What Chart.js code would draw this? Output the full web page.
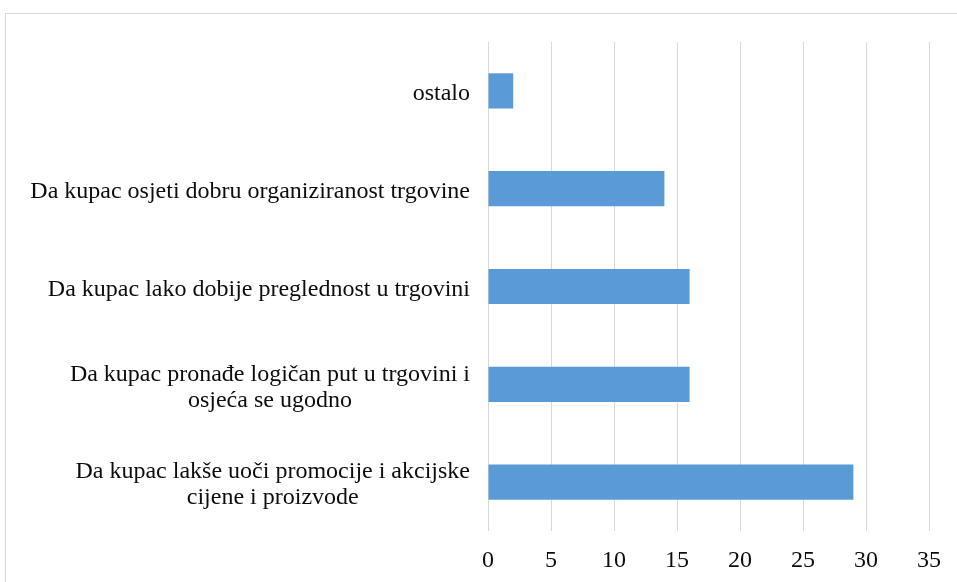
<!DOCTYPE html>
<html>
<head>
<meta charset="utf-8">
<script src="https://cdn.jsdelivr.net/npm/chart.js@4"></script>
<style>
  html, body { margin: 0; padding: 0; background: #fff; }
  #wrap { width: 957px; height: 582px; position: relative; }
</style>
</head>
<body>
<div id="wrap"><canvas id="c" width="957" height="582"></canvas></div>
<script>
// Survey answers (top to bottom) and number of respondents
const categories = [
  ['ostalo'],
  ['Da kupac osjeti dobru organiziranost trgovine'],
  ['Da kupac lako dobije preglednost u trgovini'],
  ['Da kupac pronađe logičan put u trgovini i', 'osjeća se ugodno'],
  ['Da kupac lakše uoči promocije i akcijske', 'cijene i proizvode']
];
const counts = [2, 14, 16, 16, 29];
const xTicks = [0, 5, 10, 15, 20, 25, 30, 35];

const FONT = '"Liberation Serif", "Times New Roman", serif';
const TEXT = '#0d0d0d';

// Light frame around the whole figure
const framePlugin = {
  id: 'frame',
  beforeDraw(chart) {
    const ctx = chart.ctx;
    ctx.save();
    ctx.fillStyle = '#ffffff';
    ctx.fillRect(0, 0, chart.width, chart.height);
    ctx.strokeStyle = '#d9d9d9';
    ctx.lineWidth = 1;
    ctx.strokeRect(5.5, 13.5, chart.width + 20, chart.height + 20);
    ctx.restore();
  }
};

// Category labels: block right-aligned against the plot, lines centred within the block
const categoryLabels = {
  id: 'categoryLabels',
  afterDraw(chart) {
    const ctx = chart.ctx;
    const y = chart.scales.y;
    const rightEdge = chart.chartArea.left - 18;
    const lineH = 26;
    ctx.save();
    ctx.font = '24px ' + FONT;
    ctx.fillStyle = TEXT;
    ctx.textAlign = 'center';
    ctx.textBaseline = 'middle';
    categories.forEach((lines, i) => {
      const cy = y.getPixelForValue(i) + 3;
      const w = Math.max(...lines.map(l => ctx.measureText(l).width));
      const cx = rightEdge - w / 2;
      const top = cy - (lines.length - 1) * lineH / 2;
      lines.forEach((l, k) => ctx.fillText(l, cx, top + k * lineH));
    });
    ctx.restore();
  }
};

new Chart(document.getElementById('c'), {
  type: 'bar',
  data: {
    labels: categories,
    datasets: [{
      data: counts,
      backgroundColor: '#5b9bd5',
      borderWidth: 0,
      barPercentage: 0.36,
      categoryPercentage: 1
    }]
  },
  options: {
    indexAxis: 'y',
    responsive: false,
    animation: false,
    devicePixelRatio: 1,
    layout: { padding: { top: 42, right: 28, bottom: 0, left: 0 } },
    plugins: {
      legend: { display: false },
      tooltip: { enabled: false },
      title: { display: false }
    },
    scales: {
      x: {
        min: 0,
        max: 35,
        afterBuildTicks(scale) { scale.ticks = xTicks.map(v => ({ value: v })); },
        afterFit(scale) { scale.height = 51; },
        grid: { color: '#d9d9d9', lineWidth: 1, drawTicks: false },
        border: { display: false },
        ticks: {
          padding: 15,
          color: TEXT,
          font: { family: FONT, size: 24 },
          maxRotation: 0
        }
      },
      y: {
        afterFit(scale) { scale.width = 488; },
        grid: { display: false },
        border: { display: false },
        ticks: { display: false }
      }
    }
  },
  plugins: [framePlugin, categoryLabels]
});
</script>
</body>
</html>
